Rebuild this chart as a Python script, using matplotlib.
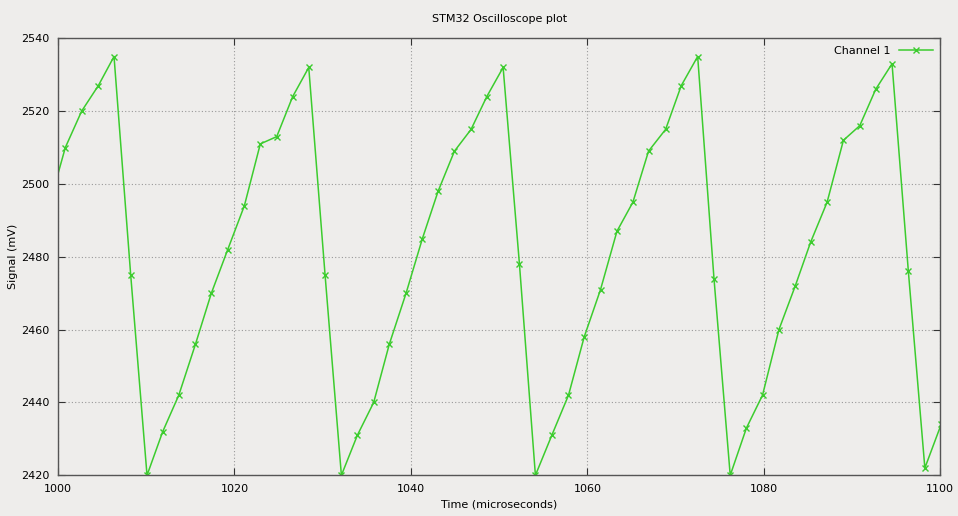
import matplotlib
matplotlib.use('Agg')
import matplotlib.pyplot as plt

# samples (time in microseconds, signal in mV)
time_us = [998.99, 1000.83, 1002.68, 1004.57, 1006.35, 1008.24, 1010.09, 1011.87,
           1013.69, 1015.58, 1017.38, 1019.24, 1021.12, 1022.93, 1024.79, 1026.60,
           1028.42, 1030.27, 1032.12, 1033.93, 1035.78, 1037.55, 1039.45, 1041.30,
           1043.08, 1044.93, 1046.82, 1048.60, 1050.45, 1052.30, 1054.11, 1055.97,
           1057.86, 1059.64, 1061.49, 1063.35, 1065.16, 1066.93, 1068.87, 1070.64,
           1072.50, 1074.35, 1076.19, 1078.03, 1079.85, 1081.71, 1083.56, 1085.30,
           1087.17, 1089.02, 1090.87, 1092.68, 1094.53, 1096.38, 1098.25, 1100.10]
signal_mv = [2494, 2510, 2520, 2527, 2535, 2475, 2420, 2432,
             2442, 2456, 2470, 2482, 2494, 2511, 2513, 2524,
             2532, 2475, 2420, 2431, 2440, 2456, 2470, 2485,
             2498, 2509, 2515, 2524, 2532, 2478, 2420, 2431,
             2442, 2458, 2471, 2487, 2495, 2509, 2515, 2527,
             2535, 2474, 2420, 2433, 2442, 2460, 2472, 2484,
             2495, 2512, 2516, 2526, 2533, 2476, 2422, 2434]

x_ticks = [1000, 1020, 1040, 1060, 1080, 1100]
y_ticks = [2420, 2440, 2460, 2480, 2500, 2520, 2540]

BG = '#eeedeb'
GREEN = '#3ccc2e'

plt.rcParams['font.family'] = 'DejaVu Sans'
fig = plt.figure(figsize=(9.58, 5.16), dpi=100, facecolor=BG)
ax = fig.add_axes([58/958, 1 - 475.3/516, 882.3/958, 437/516])
ax.set_facecolor(BG)

ax.plot(time_us, signal_mv, color=GREEN, lw=1.1, marker='x', ms=5, mew=1.0,
        label='Channel 1', clip_on=True)

ax.set_xlim(1000, 1100)
ax.set_ylim(2420, 2540)
ax.set_xticks(x_ticks)
ax.set_yticks(y_ticks)
ax.grid(True, color='#999999', linestyle=(0, (1, 2)), lw=0.8)
ax.tick_params(direction='in', length=5, color='#333333', labelsize=8,
               top=True, right=True, labeltop=False, labelright=False, pad=6)
for s in ax.spines.values():
    s.set_color('#555555')
    s.set_linewidth(1.0)

ax.set_title('STM32 Oscilloscope plot', fontsize=8, pad=12)
ax.set_xlabel('Time (microseconds)', fontsize=8, labelpad=4)
ax.set_ylabel('Signal (mV)', fontsize=8)
ax.yaxis.set_label_coords(-40/882.3, 0.5)

leg = ax.legend(loc='upper right', frameon=False, fontsize=8, markerfirst=False,
                handlelength=3.0, borderaxespad=0.3)

fig.savefig('out.png', dpi=100, facecolor=BG)
